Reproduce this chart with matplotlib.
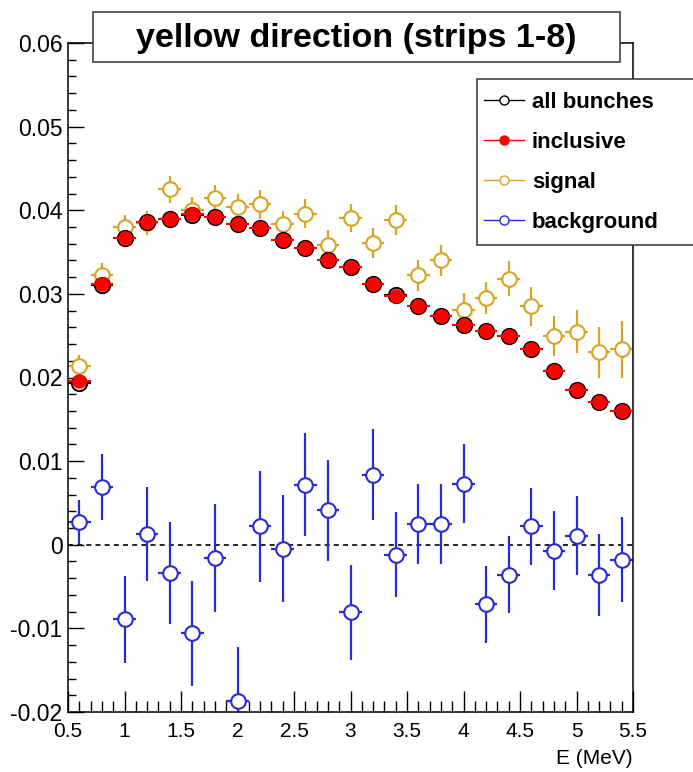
import matplotlib
matplotlib.use('Agg')
import matplotlib.pyplot as plt
import numpy as np
from matplotlib.lines import Line2D
from matplotlib.patches import Rectangle

plt.rcParams['font.family'] = ['Liberation Sans', 'DejaVu Sans']

# bin centres (MeV), bin half width 0.1
energy = np.arange(0.6, 5.45, 0.2)
half_bin = 0.1

all_bunches = [0.0193, 0.0311, 0.0367, 0.0386, 0.0390, 0.0394, 0.0392, 0.0383, 0.0379, 0.0365,
               0.0355, 0.0340, 0.0332, 0.0312, 0.0299, 0.0285, 0.0274, 0.0263, 0.0256, 0.0250,
               0.0234, 0.0208, 0.0185, 0.0171, 0.0160]
inclusive = [0.0196, 0.0312, 0.0367, 0.0386, 0.0390, 0.0396, 0.0392, 0.0383, 0.0379, 0.0365,
             0.0355, 0.0340, 0.0332, 0.0312, 0.0297, 0.0285, 0.0274, 0.0263, 0.0256, 0.0250,
             0.0234, 0.0208, 0.0185, 0.0171, 0.0160]
incl_err = [0.0004] * 25

signal = [0.0214, 0.0323, 0.0380, 0.0385, 0.0425, 0.0400, 0.0415, 0.0404, 0.0407, 0.0383,
          0.0396, 0.0359, 0.0391, 0.0361, 0.0388, 0.0322, 0.0340, 0.0281, 0.0295, 0.0318,
          0.0285, 0.0250, 0.0255, 0.0230, 0.0234]
signal_err = [0.0013, 0.0014, 0.0014, 0.0014, 0.0016, 0.0016, 0.0015, 0.0016, 0.0017, 0.0016,
              0.0017, 0.0017, 0.0017, 0.0018, 0.0018, 0.0019, 0.0019, 0.0020, 0.0019, 0.0021,
              0.0023, 0.0024, 0.0026, 0.0030, 0.0034]

background = [0.0027, 0.0069, -0.0089, 0.0013, -0.0034, -0.0106, -0.0016, -0.0187, 0.0022, -0.0005,
              0.0072, 0.0041, -0.0081, 0.0084, -0.0012, 0.0025, 0.0025, 0.0073, -0.0071, -0.0036,
              0.0022, -0.0007, 0.0011, -0.0036, -0.0018]
bg_err = [0.0026, 0.0040, 0.0052, 0.0056, 0.0061, 0.0063, 0.0065, 0.0065, 0.0066, 0.0064,
          0.0062, 0.0060, 0.0057, 0.0054, 0.0051, 0.0048, 0.0048, 0.0047, 0.0046, 0.0046,
          0.0046, 0.0047, 0.0047, 0.0049, 0.0051]

c_sig = '#d8a424'
c_bg = '#2a2ad8'

W, H = 693, 772
fig = plt.figure(figsize=(W / 100, H / 100), dpi=100)
ax = fig.add_axes([68 / W, (H - 712) / H, (633 - 68) / W, (712 - 43) / H])

ax.axhline(0, color='black', ls=(0, (3, 2.5)), lw=1.2, zorder=1)

# black open circles underneath, red filled on top -> black ring around red
ax.errorbar(energy, all_bunches, yerr=incl_err, xerr=half_bin, fmt='o', color='black', ms=11,
            mfc='white', mew=1.4, lw=1.5, capsize=0, zorder=3)
ax.errorbar(energy, inclusive, yerr=incl_err, xerr=half_bin, fmt='o', color='red', ms=9.5,
            mec='red', lw=1.5, capsize=0, zorder=4)
ax.errorbar(energy, signal, yerr=signal_err, xerr=half_bin, fmt='o', color=c_sig, ms=10.5,
            mfc='white', mew=1.5, lw=1.6, capsize=0, zorder=2)
ax.errorbar(energy, background, yerr=bg_err, xerr=half_bin, fmt='o', color=c_bg, ms=10.5,
            mfc='white', mew=1.5, lw=1.6, capsize=0, zorder=2)

ax.set_xlim(0.5, 5.5)
ax.set_ylim(-0.02, 0.06)
ax.set_xticks(np.arange(0.5, 5.51, 0.5))
ax.set_xticklabels(['0.5', '1', '1.5', '2', '2.5', '3', '3.5', '4', '4.5', '5', '5.5'])
ax.set_xticks(np.arange(0.5, 5.51, 0.1), minor=True)
ax.set_yticks(np.arange(-0.02, 0.061, 0.01))
ax.set_yticklabels(['-0.02', '-0.01', '0', '0.01', '0.02', '0.03', '0.04', '0.05', '0.06'])
ax.set_yticks(np.arange(-0.02, 0.0601, 0.002), minor=True)
ax.tick_params(which='both', direction='in', top=False, right=False, width=1)
ax.tick_params(axis='x', which='major', length=15, pad=7, labelsize=15)
ax.tick_params(axis='x', which='minor', length=8)
ax.tick_params(axis='y', which='major', length=11.5, pad=4, labelsize=16.5)
ax.tick_params(axis='y', which='minor', length=6)
for s in ax.spines.values():
    s.set_linewidth(1.1)

ax.set_xlabel('E (MeV)', loc='right', fontsize=15, labelpad=6)

# title box
fig.patches.append(Rectangle((93 / W, 1 - 62 / H), (620 - 93) / W, 50 / H, transform=fig.transFigure,
                             facecolor='white', edgecolor='#333333', lw=1.1, zorder=5))
fig.text(356 / W, 1 - 38 / H, 'yellow direction (strips 1-8)', ha='center', va='center',
         fontsize=24.5, fontweight='bold', zorder=6)

# legend box
fig.patches.append(Rectangle((477 / W, 1 - 245 / H), (700 - 477) / W, (245 - 79) / H,
                             transform=fig.transFigure, facecolor='white', edgecolor='#333333',
                             lw=1.1, zorder=5))
handles = [
    Line2D([], [], color='black', marker='o', mfc='white', ms=6.5, lw=1),
    Line2D([], [], color='red', marker='o', mfc='red', ms=6.5, lw=1),
    Line2D([], [], color=c_sig, marker='o', mfc='white', ms=6.5, lw=1),
    Line2D([], [], color=c_bg, marker='o', mfc='white', ms=6.5, lw=1),
]
leg = fig.legend(handles, ['all bunches', 'inclusive', 'signal', 'background'],
                 loc='upper left', bbox_to_anchor=(484 / W, 1 - 92 / H), frameon=False,
                 prop={'weight': 'bold', 'size': 16}, handlelength=1.8, handletextpad=0.35,
                 labelspacing=0.85, borderaxespad=0, borderpad=0)
leg.set_zorder(7)

fig.savefig('out.png', dpi=100)
